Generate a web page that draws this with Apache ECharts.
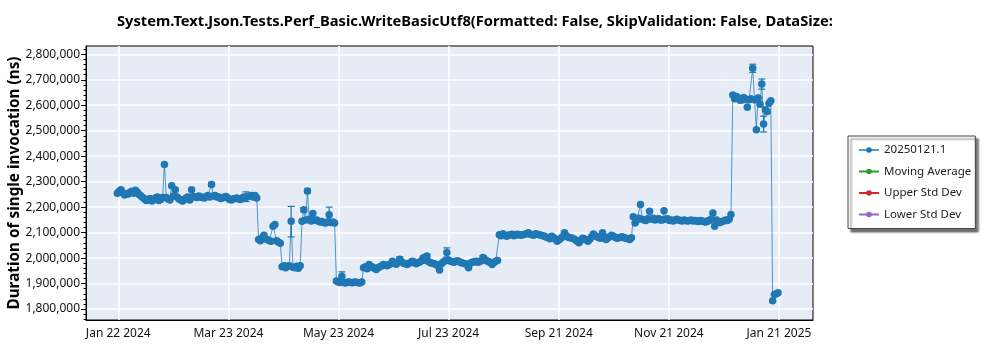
<!DOCTYPE html>
<html>
<head>
<meta charset="utf-8">
<script src="https://cdn.jsdelivr.net/npm/echarts@6/dist/echarts.min.js"></script>
<style>
  html, body { margin: 0; padding: 0; background: #fff; }
  #chart { width: 1000px; height: 350px; }
</style>
</head>
<body>
<div id="chart"></div>
<script>
// One benchmark run per day, starting on this date
const firstRunDate = '2024-01-22';

// Measured duration of a single invocation (ns), one value per daily run
const durations = [
  // Jan 22 - Jan 31 2024
  2255000,2262000,2268000,2256000,2248000,2252000,2252000,2258000,2262000,2255000,
  // Feb 2024
  2266000,2258000,2250000,2244000,2238000,2232000,2226000,2230000,2234000,2224000,
  2228000,2236000,2240000,2226000,2230000,2238000,2367000,2238000,2232000,2228000,
  2284000,2244000,2268000,2240000,2232000,2228000,2224000,2230000,2236000,
  // Mar 2024
  2240000,2228000,2268000,2242000,2240000,2238000,2244000,2240000,2238000,2236000,
  2242000,2246000,2240000,2289000,2244000,2246000,2240000,2240000,2234000,2236000,
  2240000,2242000,2236000,2230000,2228000,2232000,2234000,2236000,2232000,2230000,
  2236000,
  // Apr 1 - Apr 8
  2240000,2238000,2242000,2244000,2246000,2240000,2246000,2236000,
  // Apr 9 - Apr 21
  2073000,2068000,2080000,2090000,2075000,2072000,2068000,2066000,2125000,2132000,
  2068000,2062000,2058000,
  // Apr 22 - May 2
  1966000,1970000,1962000,1968000,1970000,2145000,1964000,1962000,1968000,1960000,
  1970000,
  // May 3 - May 21
  2145000,2190000,2150000,2263000,2152000,2146000,2175000,2148000,2150000,2146000,
  2142000,2144000,2140000,2138000,2142000,2170000,2140000,2142000,2138000,
  // May 22 - Jun 5
  1910000,1906000,1904000,1929000,1904000,1902000,1905000,1906000,1904000,1903000,
  1906000,1905000,1903000,1902000,1906000,
  // Jun 6 - Jun 30
  1962000,1966000,1958000,1975000,1968000,1964000,1960000,1955000,1962000,1966000,
  1970000,1975000,1972000,1970000,1974000,1978000,1988000,1982000,1976000,1984000,
  1995000,1986000,1980000,1978000,1975000,
  // Jul 2024
  1980000,1982000,1988000,1984000,1978000,1982000,1985000,1990000,2001000,1992000,
  2008000,1986000,1982000,1980000,1978000,1975000,1970000,1953000,1978000,1985000,
  1990000,2022000,1992000,1988000,1986000,1984000,1988000,1990000,1986000,1982000,
  1980000,
  // Aug 1 - Aug 19
  1978000,1976000,1962000,1980000,1984000,1986000,1988000,1984000,1986000,1990000,
  2002000,1994000,1990000,1986000,1984000,1975000,1982000,1988000,1991000,
  // Aug 20 - Aug 31
  2092000,2088000,2096000,2090000,2086000,2090000,2092000,2094000,2088000,2090000,
  2094000,2092000,
  // Sep 2024
  2090000,2092000,2094000,2096000,2099000,2094000,2092000,2090000,2096000,2094000,
  2092000,2090000,2088000,2086000,2082000,2080000,2076000,2086000,2080000,2074000,
  2066000,2072000,2078000,2084000,2099000,2088000,2082000,2080000,2079000,2076000,
  // Oct 2024
  2072000,2066000,2060000,2070000,2078000,2076000,2072000,2066000,2074000,2084000,
  2095000,2088000,2084000,2080000,2078000,2099000,2084000,2073000,2080000,2084000,
  2090000,2086000,2082000,2078000,2080000,2082000,2084000,2080000,2078000,2076000,
  2073000,
  // Nov 1
  2080000,
  // Nov 2 - Nov 30
  2162000,2138000,2150000,2156000,2210000,2152000,2150000,2148000,2154000,2184000,
  2152000,2156000,2150000,2152000,2154000,2150000,2150000,2186000,2152000,2154000,
  2148000,2150000,2146000,2150000,2152000,2150000,2148000,2146000,2150000,
  // Dec 1 - Dec 26
  2148000,2146000,2148000,2150000,2146000,2148000,2146000,2144000,2148000,2146000,
  2144000,2142000,2146000,2148000,2152000,2177000,2125000,2150000,2144000,2140000,
  2144000,2146000,2150000,2148000,2152000,2171000,
  // Dec 27 2024 - Jan 17 2025
  2640000,2625000,2634000,2628000,2620000,2621000,2630000,2624000,2592000,2622000,
  2625000,2745000,2622000,2504000,2628000,2604000,2683000,2526000,2582000,2575000,
  2608000,2618000,
  // Jan 18 - Jan 21 2025
  1833000,1857000,1860000,1864000
];

// Runs whose spread is wide enough to show an error bar
const errDates = ['2024-03-14','2024-04-02','2024-04-27','2024-05-04','2024-05-06','2024-05-18','2024-05-25',
                  '2024-06-26','2024-07-03','2024-07-11','2024-07-22','2024-08-11','2024-12-12',
                  '2025-01-07','2025-01-12','2025-01-13'];
const errLow  = [2281000,2222000,2083000,2182000,2255000,2140000,1912000,
                 1985000,1980000,2000000,2004000,1994000,2132000,
                 2729000,2663000,2495000];
const errHigh = [2297000,2260000,2203000,2198000,2271000,2200000,1946000,
                 2005000,1996000,2015000,2040000,2010000,2152000,
                 2761000,2703000,2557000];

// Axis tick positions
const xTickDates = ['Jan 22 2024','Mar 23 2024','May 23 2024','Jul 23 2024','Sep 21 2024','Nov 21 2024','Jan 21 2025'];
const yTicks = [1800000,1900000,2000000,2100000,2200000,2300000,2400000,2500000,2600000,2700000,2800000];

const seriesNames = ['20250121.1', 'Moving Average', 'Upper Std Dev', 'Lower Std Dev'];
const seriesColors = ['#1f77b4', '#2ca02c', '#d62728', '#9467bd'];

const titleText = 'System.Text.Json.Tests.Perf_Basic.WriteBasicUtf8(Formatted: False, SkipValidation: False, DataSize:';
const yAxisTitle = 'Duration of single invocation (ns)';

// x axis is measured in days from 2024-01-22 12:00 UTC; ticks fall every sixth of a year
const BASE = Date.UTC(2024, 0, 22, 12);
const DAY = 86400000;
const TICK_STEP = 365 / 6;

function dayOf(s) {
  const [y, m, d] = s.split('-').map(Number);
  return (Date.UTC(y, m - 1, d) - BASE) / DAY;
}
const firstDay = dayOf(firstRunDate);
const xTickValues = xTickDates.map((_, i) => i * TICK_STEP);
function xLabel(v) {
  return xTickDates[Math.round(v / TICK_STEP)] || '';
}

// four minor ticks between neighbouring labelled values
const yMinorTicks = [];
yTicks.forEach(t => {
  for (let j = 1; j < 5; j++) yMinorTicks.push(t + j * 20000);
  if (t === yTicks[0]) for (let j = 1; j < 3; j++) yMinorTicks.push(t - j * 20000);
});

const mainData = durations.map((v, i) => [firstDay + i, v]);
const errData = errDates.map((d, i) => [dayOf(d), errLow[i], errHigh[i]]);

const FONT = 'Noto Sans';
const Y_MIN = 1757000, Y_MAX = 2832500;
const chart = echarts.init(document.getElementById('chart'), null, { renderer: 'canvas' });

chart.setOption({
  animation: false,
  backgroundColor: '#ffffff',
  textStyle: { fontFamily: FONT },
  title: {
    text: titleText,
    left: 112,
    top: 9,
    textStyle: { fontFamily: FONT, fontSize: 14.7, fontWeight: 'bold', color: '#000' }
  },
  legend: {
    data: seriesNames,
    orient: 'vertical',
    left: 848,
    top: 136,
    padding: [8, 4, 8, 10],
    itemGap: 9.5,
    itemWidth: 20,
    itemHeight: 7,
    backgroundColor: '#fff',
    borderColor: '#444',
    borderWidth: 1,
    shadowColor: 'rgba(0,0,0,0.55)',
    shadowOffsetX: 3,
    shadowOffsetY: 3,
    shadowBlur: 2,
    textStyle: { fontFamily: FONT, fontSize: 11.5, color: '#222', width: 86, overflow: 'none' }
  },
  grid: {
    left: 86,
    right: 187,
    top: 46,
    bottom: 30,
    containLabel: false,
    outerBoundsMode: 'none',
    show: true,
    backgroundColor: '#e5ecf6',
    borderColor: '#000',
    borderWidth: 1
  },
  xAxis: {
    type: 'value',
    min: -17.84,
    max: 383.8,
    axisLine: { show: true, onZero: false, lineStyle: { color: '#000', width: 1 } },
    axisTick: { show: false, customValues: xTickValues },
    axisLabel: {
      customValues: xTickValues,
      fontFamily: FONT,
      fontSize: 12,
      color: '#111',
      margin: 8,
      formatter: xLabel
    },
    splitLine: { show: true, lineStyle: { color: '#ffffff', width: 1.5 } }
  },
  yAxis: [
    {
      type: 'value',
      position: 'left',
      min: Y_MIN,
      max: Y_MAX,
      name: yAxisTitle,
      nameLocation: 'middle',
      nameGap: 64,
      nameMoveOverlap: false,
      nameTextStyle: { fontFamily: FONT, fontSize: 15.3, fontWeight: 'bold', color: '#000' },
      axisLine: { show: true, onZero: false, lineStyle: { color: '#000', width: 1 } },
      axisTick: { show: true, length: 5, customValues: yTicks, lineStyle: { color: '#000' } },
      axisLabel: {
        customValues: yTicks,
        fontFamily: FONT,
        fontSize: 12,
        color: '#111',
        margin: 6,
        formatter: v => v.toLocaleString('en-US')
      },
      splitLine: { show: true, lineStyle: { color: '#ffffff', width: 1.5 } }
    },
    {
      // minor ticks only
      type: 'value',
      position: 'left',
      offset: 0,
      min: Y_MIN,
      max: Y_MAX,
      axisLine: { show: false, onZero: false },
      axisTick: { show: true, length: 2.5, customValues: yMinorTicks, lineStyle: { color: '#000' } },
      axisLabel: { show: false },
      splitLine: { show: false }
    }
  ],
  series: [
    {
      name: seriesNames[0],
      type: 'line',
      data: mainData,
      color: seriesColors[0],
      symbol: 'circle',
      symbolSize: 7.5,
      showAllSymbol: true,
      lineStyle: { width: 1, opacity: 0.75 },
      itemStyle: { color: seriesColors[0] },
      z: 3
    },
    {
      name: 'errors',
      type: 'custom',
      data: errData,
      encode: { x: 0, y: [1, 2] },
      z: 4,
      renderItem(params, api) {
        const x = api.value(0);
        const top = api.coord([x, api.value(2)]);
        const bot = api.coord([x, api.value(1)]);
        const hw = 3.5;
        const style = { stroke: seriesColors[0], lineWidth: 1.2 };
        return {
          type: 'group',
          children: [
            { type: 'line', shape: { x1: top[0], y1: top[1], x2: bot[0], y2: bot[1] }, style },
            { type: 'line', shape: { x1: top[0] - hw, y1: top[1], x2: top[0] + hw, y2: top[1] }, style },
            { type: 'line', shape: { x1: bot[0] - hw, y1: bot[1], x2: bot[0] + hw, y2: bot[1] }, style }
          ]
        };
      }
    },
    { name: seriesNames[1], type: 'line', data: [], color: seriesColors[1], symbol: 'circle', lineStyle: { width: 1 } },
    { name: seriesNames[2], type: 'line', data: [], color: seriesColors[2], symbol: 'circle', lineStyle: { width: 1 } },
    { name: seriesNames[3], type: 'line', data: [], color: seriesColors[3], symbol: 'circle', lineStyle: { width: 1 } }
  ]
});
</script>
</body>
</html>
